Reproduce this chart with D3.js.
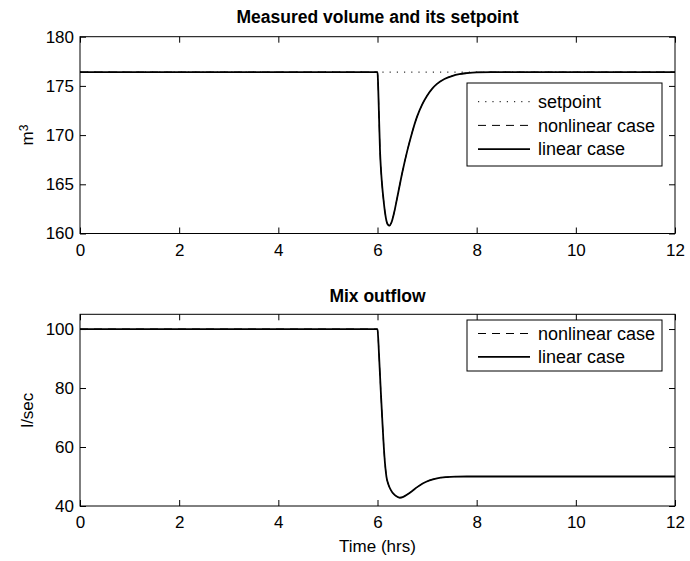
<!DOCTYPE html>
<html>
<head>
<meta charset="utf-8">
<script src="https://cdn.jsdelivr.net/npm/d3@7"></script>
<style>
  html, body { margin: 0; padding: 0; background: #fff; }
  svg { display: block; }
  text { font-family: "Liberation Sans", Arial, Helvetica, sans-serif; fill: #000; }
</style>
</head>
<body>
<svg id="chart" width="690" height="561"></svg>
<script>
// Tank volume response (m^3) over time (hours)
const volTime = [0, 5.99, 6.0, 6.01, 6.03, 6.05, 6.07, 6.09, 6.12, 6.15, 6.18, 6.21, 6.24, 6.28, 6.33, 6.4, 6.5, 6.6, 6.7, 6.8, 6.9, 7.0, 7.1, 7.2, 7.35, 7.5, 7.65, 7.8, 8.0, 8.3, 9, 12];
const volLinear = [176.4, 176.4, 176.4, 175.5, 172.0, 168.5, 166.5, 165.1, 163.5, 162.2, 161.3, 160.9, 160.8, 161.1, 162.0, 163.7, 166.2, 168.4, 170.3, 171.9, 173.1, 174.0, 174.7, 175.2, 175.7, 176.0, 176.2, 176.3, 176.38, 176.4, 176.4, 176.4];
const volNonlinear = [176.4, 176.4, 176.4, 175.5, 172.0, 168.5, 166.5, 165.1, 163.5, 162.2, 161.3, 160.9, 160.8, 161.1, 162.0, 163.7, 166.2, 168.4, 170.3, 171.9, 173.1, 174.0, 174.7, 175.2, 175.7, 176.0, 176.2, 176.3, 176.38, 176.4, 176.4, 176.4];
const setpointTime = [0, 12];
const setpointValue = [176.4, 176.4];

// Mix outflow (l/sec) over time (hours)
const flowTime = [0, 5.99, 6.0, 6.02, 6.04, 6.065, 6.1, 6.14, 6.18, 6.22, 6.27, 6.33, 6.39, 6.45, 6.52, 6.6, 6.7, 6.8, 6.92, 7.05, 7.2, 7.4, 7.6, 7.8, 8.2, 9, 12];
const flowLinear = [100, 100, 100, 95, 88, 79.4, 68.1, 56.8, 50.0, 47.3, 45.4, 44.0, 43.2, 42.8, 43.1, 43.9, 45.1, 46.4, 47.7, 48.7, 49.4, 49.8, 49.95, 50, 50, 50, 50];
const flowNonlinear = [100, 100, 100, 95, 88, 79.4, 68.1, 56.8, 50.0, 47.3, 45.4, 44.0, 43.2, 42.8, 43.1, 43.9, 45.1, 46.4, 47.7, 48.7, 49.4, 49.8, 49.95, 50, 50, 50, 50];

const xTicks = [0, 2, 4, 6, 8, 10, 12];
const volTicks = [160, 165, 170, 175, 180];
const flowTicks = [40, 60, 80, 100];

const svg = d3.select("#chart");
const left = 80, right = 675;

function panel(cfg) {
  const x = d3.scaleLinear().domain([0, 12]).range([left, right]);
  const y = d3.scaleLinear().domain(cfg.yDomain).range([cfg.bottom, cfg.top]);
  const g = svg.append("g");

  // axes with inward ticks on every side
  const bottomAxis = d3.axisBottom(x).tickValues(xTicks).tickSizeInner(-6).tickSizeOuter(0).tickPadding(10);
  const topAxis = d3.axisTop(x).tickValues(xTicks).tickSizeInner(-6).tickSizeOuter(0).tickFormat("");
  const leftAxis = d3.axisLeft(y).tickValues(cfg.yTicks).tickSizeInner(-6).tickSizeOuter(0).tickPadding(6);
  const rightAxis = d3.axisRight(y).tickValues(cfg.yTicks).tickSizeInner(-6).tickSizeOuter(0).tickFormat("");

  const styleAxis = sel => {
    sel.select(".domain").remove();
    sel.selectAll(".tick line").attr("stroke", "#000").attr("stroke-width", 1);
    sel.selectAll(".tick text").style("font-size", "17px").attr("fill", "#000");
  };
  g.append("g").attr("transform", `translate(0,${cfg.bottom})`).call(bottomAxis).call(styleAxis);
  g.append("g").attr("transform", `translate(0,${cfg.top})`).call(topAxis).call(styleAxis);
  g.append("g").attr("transform", `translate(${left},0)`).call(leftAxis).call(styleAxis);
  g.append("g").attr("transform", `translate(${right},0)`).call(rightAxis).call(styleAxis);

  g.selectAll(".tick text").attr("font-family", null);

  const clipId = "clip" + cfg.id;
  svg.append("clipPath").attr("id", clipId).append("rect")
    .attr("x", left).attr("y", cfg.top).attr("width", right - left).attr("height", cfg.bottom - cfg.top);

  const plot = g.append("g").attr("clip-path", `url(#${clipId})`);
  cfg.series.forEach(s => {
    const pts = s.t.map((t, i) => [t, s.v[i]]);
    const line = d3.line().x(d => x(d[0])).y(d => y(d[1])).curve(d3.curveMonotoneX);
    plot.append("path").datum(pts).attr("d", line)
      .attr("fill", "none").attr("stroke", "#000")
      .attr("stroke-width", s.width).attr("stroke-dasharray", s.dash)
      .attr("stroke-linecap", s.cap || "butt");
  });

  // frame
  g.append("rect").attr("x", left).attr("y", cfg.top)
    .attr("width", right - left).attr("height", cfg.bottom - cfg.top)
    .attr("fill", "none").attr("stroke", "#000").attr("stroke-width", 1);

  // title
  g.append("text").attr("x", (left + right) / 2).attr("y", cfg.titleY)
    .attr("text-anchor", "middle").style("font-size", "17.5px").style("font-weight", "bold")
    .text(cfg.title);

  // y label
  const yl = g.append("text")
    .attr("transform", `translate(33,${(cfg.top + cfg.bottom) / 2}) rotate(-90)`)
    .attr("text-anchor", "middle").style("font-size", "17px");
  cfg.yLabel(yl);

  // legend
  const lg = g.append("g");
  const rows = cfg.series.filter(s => s.label).reverse();
  const lx = cfg.legend.x, ly = cfg.legend.y, lw = cfg.legend.w, lh = cfg.legend.h;
  lg.append("rect").attr("x", lx).attr("y", ly).attr("width", lw).attr("height", lh)
    .attr("fill", "#fff").attr("stroke", "#000").attr("stroke-width", 1);
  rows.forEach((s, i) => {
    const ry = ly + cfg.legend.first + i * cfg.legend.step;
    lg.append("line").attr("x1", lx + 11).attr("x2", lx + 63).attr("y1", ry).attr("y2", ry)
      .attr("stroke", "#000").attr("stroke-width", s.width).attr("stroke-dasharray", s.dash)
      .attr("stroke-linecap", s.cap || "butt");
    lg.append("text").attr("x", lx + 71).attr("y", ry).attr("dy", "0.35em")
      .style("font-size", "18px").text(s.label);
  });
}

panel({
  id: "vol",
  top: 36.7, bottom: 233.5,
  yDomain: [160, 180], yTicks: volTicks,
  title: "Measured volume and its setpoint", titleY: 23,
  yLabel: t => { t.append("tspan").text("m"); t.append("tspan").attr("dy", "-0.45em").style("font-size", "12px").text("3"); },
  legend: { x: 467, y: 83, w: 195, h: 83, first: 18.7, step: 23.7 },
  series: [
    { t: volTime, v: volLinear, width: 1.8, dash: null, label: "linear case" },
    { t: volTime, v: volNonlinear, width: 1, dash: "8,6", label: "nonlinear case" },
    { t: setpointTime, v: setpointValue, width: 1, dash: "1.2,6", label: "setpoint" }
  ]
});

panel({
  id: "flow",
  top: 314.3, bottom: 506,
  yDomain: [40, 105], yTicks: flowTicks,
  title: "Mix outflow", titleY: 302,
  yLabel: t => t.text("l/sec"),
  legend: { x: 467, y: 320, w: 195, h: 51, first: 13.5, step: 23.3 },
  series: [
    { t: flowTime, v: flowLinear, width: 1.8, dash: null, label: "linear case" },
    { t: flowTime, v: flowNonlinear, width: 1, dash: "8,6", label: "nonlinear case" }
  ]
});

svg.append("text").attr("x", (left + right) / 2).attr("y", 552)
  .attr("text-anchor", "middle").style("font-size", "17px").text("Time (hrs)");
</script>
</body>
</html>
